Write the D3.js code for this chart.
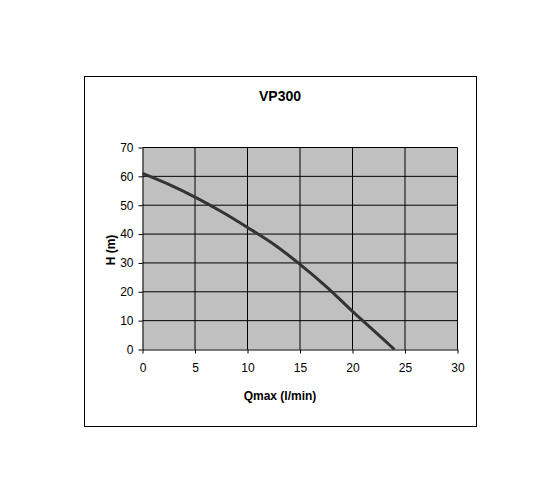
<!DOCTYPE html>
<html>
<head>
<meta charset="utf-8">
<script src="https://cdn.jsdelivr.net/npm/d3@7"></script>
<style>
  body { margin: 0; background: #fff; }
  svg text { font-family: "Liberation Sans", Arial, sans-serif; fill: #000; }
</style>
</head>
<body>
<svg id="chart" width="560" height="504"></svg>
<script>
/* ── DATA ── */
const flow = [0, 2.5, 5, 7.5, 10, 12.5, 15, 17.5, 20, 22, 24];        // Qmax (l/min)
const head = [61, 57.2, 52.8, 47.8, 42.3, 36.5, 29.5, 21.8, 13.2, 6.6, 0]; // H (m)
const xTicks = [0, 5, 10, 15, 20, 25, 30];
const yTicks = [0, 10, 20, 30, 40, 50, 60, 70];
const title = 'VP300';
const xTitle = 'Qmax (l/min)';
const yTitle = 'H (m)';

/* ── CHART ── */
(function () {
  const svg = d3.select('#chart');
  const L = 142.5, R = 457.5, T = 147.5, B = 349.5;

  // outer frame
  svg.append('rect')
    .attr('x', 84.5).attr('y', 76.5).attr('width', 392).attr('height', 350)
    .attr('fill', '#fff').attr('stroke', '#000').attr('stroke-width', 1);

  const x = d3.scaleLinear().domain([0, 30]).range([L, R]);
  const y = d3.scaleLinear().domain([0, 70]).range([B, T]);

  // plot area
  svg.append('rect')
    .attr('x', L).attr('y', T).attr('width', R - L).attr('height', B - T)
    .attr('fill', '#c0c0c0');

  // grid
  const g = svg.append('g');
  g.selectAll('.gx').data(xTicks.slice(1)).join('line')
    .attr('x1', d => x(d)).attr('x2', d => x(d)).attr('y1', T).attr('y2', B)
    .attr('stroke', '#000').attr('stroke-width', 1);
  g.selectAll('.gy').data(yTicks.slice(1)).join('line')
    .attr('x1', L).attr('x2', R).attr('y1', d => y(d)).attr('y2', d => y(d))
    .attr('stroke', '#000').attr('stroke-width', 1);

  // axes
  const ax = svg.append('g')
    .attr('transform', `translate(0,${B})`)
    .call(d3.axisBottom(x).tickValues(xTicks).tickSize(4).tickSizeOuter(0).tickPadding(10));
  const ay = svg.append('g')
    .attr('transform', `translate(${L},0)`)
    .call(d3.axisLeft(y).tickValues(yTicks).tickSize(4).tickSizeOuter(0).tickPadding(5));
  [ax, ay].forEach(a => {
    a.select('.domain').attr('stroke', '#000');
    a.selectAll('.tick line').attr('stroke', '#000');
    a.selectAll('.tick text').style('font-size', '12px').attr('fill', '#000');
  });

  // curve
  const pts = flow.map((q, i) => ({ q, h: head[i] }));
  const line = d3.line().x(d => x(d.q)).y(d => y(d.h)).curve(d3.curveCatmullRom);
  svg.append('path').datum(pts)
    .attr('d', line).attr('fill', 'none')
    .attr('stroke', '#333').attr('stroke-width', 3).attr('stroke-linejoin', 'round');

  // titles
  svg.append('text').attr('x', 280).attr('y', 101).attr('text-anchor', 'middle')
    .style('font-size', '14px').style('font-weight', 'bold').text(title);
  svg.append('text').attr('x', 280).attr('y', 400).attr('text-anchor', 'middle')
    .style('font-size', '12px').style('font-weight', 'bold').text(xTitle);
  svg.append('text')
    .attr('transform', 'translate(115,250) rotate(-90)').attr('text-anchor', 'middle')
    .style('font-size', '12px').style('font-weight', 'bold').text(yTitle);
})();
</script>
</body>
</html>
